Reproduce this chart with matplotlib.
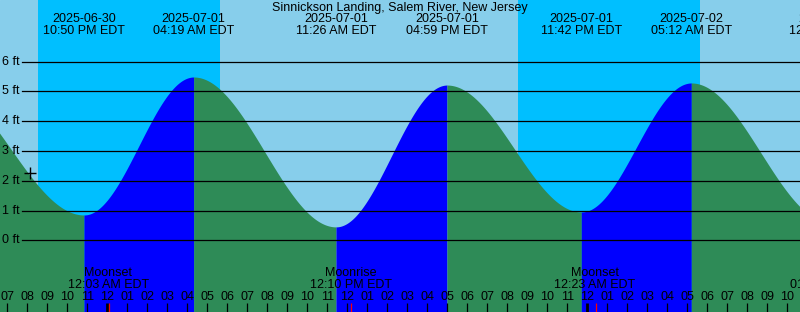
import numpy as np
import matplotlib
matplotlib.use('Agg')
import matplotlib.pyplot as plt
import matplotlib.transforms as mtransforms

plt.rcParams['font.family'] = ['Liberation Sans', 'DejaVu Sans']
plt.rcParams['font.size'] = 9

title = 'Sinnickson Landing, Salem River, New Jersey'

# hours counted from 2025-06-30 00:00 EDT
t_start = 18.635
t_end = 58.635

# tide extremes (first and last are off the chart edges)
tide_hours = [15.5, 22.833, 28.317, 35.433, 40.983, 47.7, 53.2, 60.15]
tide_ft = [5.3, 0.85, 5.48, 0.45, 5.21, 0.95, 5.28, 0.6]
tide_dates = ['2025-06-30', '2025-06-30', '2025-07-01', '2025-07-01',
              '2025-07-01', '2025-07-01', '2025-07-02', '2025-07-02']
tide_times = ['03:30 PM EDT', '10:50 PM EDT', '04:19 AM EDT', '11:26 AM EDT',
              '04:59 PM EDT', '11:42 PM EDT', '05:12 AM EDT', '12:08 PM EDT']

# night = sunset -> sunrise
night_start = [20.53, 44.53]
night_end = [29.63, 53.63]

moon_hours = [24.05, 36.167, 48.383, 60.2]
moon_names = ['Moonset', 'Moonrise', 'Moonset', 'Moonrise']
moon_times = ['12:03 AM EDT', '12:10 PM EDT', '12:23 AM EDT', '01:12 PM EDT']

ft_levels = [0, 1, 2, 3, 4, 5, 6]
now_hour, now_ft = 20.135, 2.25

day_col = '#87CEEB'
night_col = '#00BFFF'
ebb_col = '#2E8B57'
flood_col = '#0000FF'

fig = plt.figure(figsize=(8, 3.12), dpi=100)
ax = fig.add_axes([0, 0, 1, 1])
ax.set_xlim(t_start, t_end)
ax.set_ylim(-2.406, 8.064)
ax.set_axis_off()
ax.add_patch(plt.Rectangle((0, 0), 1, 1, transform=ax.transAxes, color=day_col, zorder=0))
for a, b in zip(night_start, night_end):
    ax.axvspan(a, b, color=night_col, lw=0, zorder=1)

# curve between extremes, cosine shaped
for i in range(len(tide_hours) - 1):
    t0, t1 = tide_hours[i], tide_hours[i + 1]
    h0, h1 = tide_ft[i], tide_ft[i + 1]
    tt = np.linspace(t0, t1, 200)
    hh = h1 + (h0 - h1) * (1 + np.cos(np.pi * (tt - t0) / (t1 - t0))) / 2
    col = flood_col if h1 > h0 else ebb_col
    ax.fill_between(tt, -3, hh, color=col, lw=0, zorder=2)

xf = mtransforms.blended_transform_factory(ax.transData, ax.transAxes)
yf = mtransforms.blended_transform_factory(ax.transAxes, ax.transData)

for f in ft_levels:
    ax.axhline(f, xmin=22 / 800, xmax=1, color='black', lw=0.9, zorder=3)
    ax.text(2 / 800, f, '%d ft' % f, transform=yf, ha='left', va='center', zorder=4)

ax.plot([now_hour], [now_ft], marker='+', color='black', ms=9, mew=1, zorder=5)

ax.text(0.5, 1 - 7.5 / 312, title, transform=ax.transAxes, ha='center', va='center')
for t, d, s in zip(tide_hours, tide_dates, tide_times):
    if t < t_start:
        continue
    ax.text(t, 1 - 19.5 / 312, d, transform=xf, ha='center', va='center')
    ax.text(t, 1 - 31.5 / 312, s, transform=xf, ha='center', va='center')

# hour ticks along the bottom
for h in range(19, 59):
    hr = h % 12
    if hr == 0:
        hr = 12
    lw = 2.0 if h % 24 == 0 else 0.9
    ax.plot([h, h], [0, 9 / 312], transform=xf, color='black', lw=lw, zorder=4,
            solid_capstyle='butt')
    ax.text(h, 14.5 / 312, '%02d' % hr, transform=xf, ha='center', va='center', zorder=4)

for t, n, s in zip(moon_hours, moon_names, moon_times):
    ax.plot([t + 0.04, t + 0.04], [0, 9 / 312], transform=xf, color='red', lw=0.9,
            zorder=5, solid_capstyle='butt')
    ax.text(t, 39 / 312, n, transform=xf, ha='center', va='center', zorder=4)
    ax.text(t, 27 / 312, s, transform=xf, ha='center', va='center', zorder=4)

fig.savefig('out.png', dpi=100)
